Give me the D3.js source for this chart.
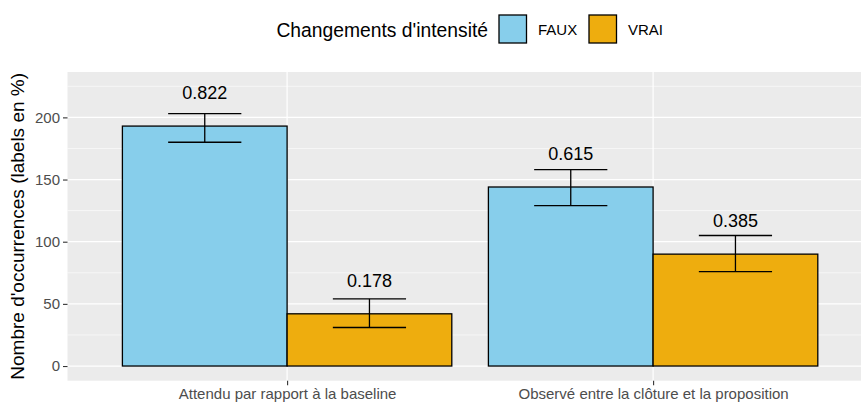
<!DOCTYPE html>
<html>
<head>
<meta charset="utf-8">
<script src="https://cdn.jsdelivr.net/npm/d3@7"></script>
<style>
  body { margin: 0; background: white; }
  text { font-family: "Liberation Sans", Arial, sans-serif; }
</style>
</head>
<body>
<div id="chart"></div>
<script>
// data
var categories = ["Attendu par rapport à la baseline", "Observé entre la clôture et la proposition"];
var groups = ["FAUX", "VRAI"];
var counts = [[193, 42], [144, 90]];
var errLow = [[180, 31], [129, 76]];
var errHigh = [[203, 54], [158, 105]];
var propLabels = [["0.822", "0.178"], ["0.615", "0.385"]];
var yTicks = [0, 50, 100, 150, 200];
var yMinor = [25, 75, 125, 175, 225];
var colors = {FAUX: "#87CEEB", VRAI: "#EEAD0E"};

var W = 861, H = 404;
var panel = {left: 67.5, right: 872.7, top: 72, bottom: 380.7};

var svg = d3.select("#chart").append("svg")
    .attr("width", W)
    .attr("height", H);

// scales: discrete axis drawn as positions 1..n with ggplot's 0.6 expansion
var x = d3.scaleLinear()
    .domain([0.4, categories.length + 0.6])
    .range([panel.left, panel.right]);
var y = d3.scaleLinear()
    .domain([-11.8, 236.5])
    .range([panel.bottom, panel.top]);

var dodge = 0.9, barW = dodge / groups.length;

// panel background + grid
svg.append("rect")
    .attr("x", panel.left).attr("y", panel.top)
    .attr("width", panel.right - panel.left)
    .attr("height", panel.bottom - panel.top)
    .attr("fill", "#EBEBEB");

svg.append("g").selectAll("line").data(yMinor).enter().append("line")
    .attr("x1", panel.left).attr("x2", panel.right)
    .attr("y1", function(d) { return y(d); }).attr("y2", function(d) { return y(d); })
    .attr("stroke", "white").attr("stroke-width", 0.6);

svg.append("g").selectAll("line").data(yTicks).enter().append("line")
    .attr("x1", panel.left).attr("x2", panel.right)
    .attr("y1", function(d) { return y(d); }).attr("y2", function(d) { return y(d); })
    .attr("stroke", "white").attr("stroke-width", 1.2);

svg.append("g").selectAll("line").data(categories).enter().append("line")
    .attr("x1", function(d, i) { return x(i + 1); }).attr("x2", function(d, i) { return x(i + 1); })
    .attr("y1", panel.top).attr("y2", panel.bottom)
    .attr("stroke", "white").attr("stroke-width", 1.2);

// flatten to one row per bar
var rows = [];
categories.forEach(function(c, i) {
  groups.forEach(function(g, j) {
    var cx = (i + 1) - dodge / 2 + barW * (j + 0.5);
    rows.push({cat: c, grp: g, xc: cx, n: counts[i][j], lo: errLow[i][j], hi: errHigh[i][j], lab: propLabels[i][j]});
  });
});

// bars
svg.append("g").selectAll("rect").data(rows).enter().append("rect")
    .attr("x", function(d) { return x(d.xc - barW / 2); })
    .attr("width", function(d) { return x(d.xc + barW / 2) - x(d.xc - barW / 2); })
    .attr("y", function(d) { return y(d.n); })
    .attr("height", function(d) { return y(0) - y(d.n); })
    .attr("fill", function(d) { return colors[d.grp]; })
    .attr("stroke", "black")
    .attr("stroke-width", 1.3);

// error bars
var eb = svg.append("g").attr("stroke", "black").attr("stroke-width", 1.3);
var capW = 0.1;
eb.selectAll(".v").data(rows).enter().append("line")
    .attr("x1", function(d) { return x(d.xc); }).attr("x2", function(d) { return x(d.xc); })
    .attr("y1", function(d) { return y(d.lo); }).attr("y2", function(d) { return y(d.hi); });
eb.selectAll(".t").data(rows).enter().append("line")
    .attr("x1", function(d) { return x(d.xc - capW); }).attr("x2", function(d) { return x(d.xc + capW); })
    .attr("y1", function(d) { return y(d.hi); }).attr("y2", function(d) { return y(d.hi); });
eb.selectAll(".b").data(rows).enter().append("line")
    .attr("x1", function(d) { return x(d.xc - capW); }).attr("x2", function(d) { return x(d.xc + capW); })
    .attr("y1", function(d) { return y(d.lo); }).attr("y2", function(d) { return y(d.lo); });

// value labels
svg.append("g").selectAll("text").data(rows).enter().append("text")
    .attr("x", function(d) { return x(d.xc); })
    .attr("y", function(d) { return y(d.n + 26.5); })
    .attr("dy", "0.35em")
    .attr("text-anchor", "middle")
    .style("font-size", "18px")
    .attr("fill", "black")
    .text(function(d) { return d.lab; });

// y axis
var yAxis = svg.append("g")
    .attr("transform", "translate(" + panel.left + ",0)")
    .call(d3.axisLeft(y).tickValues(yTicks).tickSize(4.5).tickPadding(3));
yAxis.select(".domain").remove();
yAxis.selectAll(".tick line").attr("stroke", "#333333").attr("stroke-width", 1.1);
yAxis.selectAll(".tick text").attr("fill", "#4D4D4D")
    .style("font-size", "15px").style("font-family", "Liberation Sans, Arial, sans-serif");

// x axis
var xAxis = svg.append("g")
    .attr("transform", "translate(0," + panel.bottom + ")")
    .call(d3.axisBottom(x).tickValues(categories.map(function(c, i) { return i + 1; }))
      .tickFormat(function(d) { return categories[d - 1]; }).tickSize(4.5).tickPadding(3));
xAxis.select(".domain").remove();
xAxis.selectAll(".tick line").attr("stroke", "#333333").attr("stroke-width", 1.1);
xAxis.selectAll(".tick text").attr("fill", "#4D4D4D")
    .style("font-size", "15px").style("font-family", "Liberation Sans, Arial, sans-serif");

// y title
svg.append("text")
    .attr("transform", "rotate(-90)")
    .attr("x", -(panel.top + panel.bottom) / 2)
    .attr("y", 17)
    .attr("dy", "0.35em")
    .attr("text-anchor", "middle")
    .style("font-size", "19px")
    .text("Nombre d'occurrences (labels en %)");

// legend
var lg = svg.append("g");
lg.append("text")
    .attr("x", 488).attr("y", 30)
    .attr("dy", "0.35em")
    .attr("text-anchor", "end")
    .style("font-size", "19.3px")
    .text("Changements d'intensité");
var keyX = [499, 589];
groups.forEach(function(g, j) {
  lg.append("rect")
    .attr("x", keyX[j]).attr("y", 15)
    .attr("width", 27.5).attr("height", 28)
    .attr("fill", colors[g])
    .attr("stroke", "black").attr("stroke-width", 1.3);
  lg.append("text")
    .attr("x", keyX[j] + 39).attr("y", 30)
    .attr("dy", "0.35em")
    .style("font-size", "15px")
    .text(g);
});
</script>
</body>
</html>
